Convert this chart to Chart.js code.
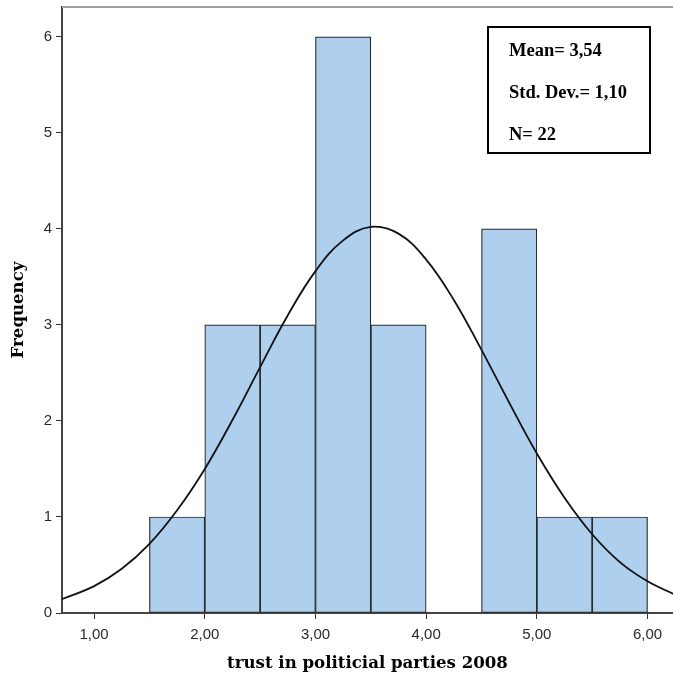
<!DOCTYPE html>
<html>
<head>
<meta charset="utf-8">
<script src="https://cdn.jsdelivr.net/npm/chart.js@4"></script>
<style>
  body { margin: 0; background: #fff; }
  #wrap { width: 673px; height: 682px; }
</style>
</head>
<body>
<div id="wrap"><canvas id="histChart"></canvas></div>
<script>
// bin centres (width 0.5) and frequencies
const binCenters = [1.75, 2.25, 2.75, 3.25, 3.75, 4.25, 4.75, 5.25, 5.75];
const frequencies = [1, 3, 3, 6, 3, 0, 4, 1, 1];

// normal curve
const curveX = [0.7, 1.0, 1.25, 1.5, 1.75, 2.0, 2.25, 2.5, 2.75, 3.0, 3.25, 3.5,
                3.75, 4.0, 4.25, 4.5, 4.75, 5.0, 5.25, 5.5, 5.75, 6.0, 6.25];
const curveY = [0.14, 0.28, 0.46, 0.72, 1.07, 1.50, 2.01, 2.56, 3.10, 3.56, 3.88, 4.02,
                3.95, 3.68, 3.26, 2.74, 2.19, 1.66, 1.20, 0.82, 0.53, 0.33, 0.19];

const xTicks = [1, 2, 3, 4, 5, 6];
const yTicks = [0, 1, 2, 3, 4, 5, 6];
const statLines = ['Mean= 3,54', 'Std. Dev.= 1,10', 'N= 22'];

const barData = binCenters
    .map((x, i) => ({ x: x, y: frequencies[i] }))
    .filter(p => p.y > 0);
const curveData = curveX.map((x, i) => ({ x: x, y: curveY[i] }));

/**
 * Draws the grey top frame line and the statistics box.
 */
const extrasPlugin = {
    id: 'extras',
    afterDraw(chart) {
        const c = chart.ctx;
        const area = chart.chartArea;
        c.save();
        c.strokeStyle = '#a0a0a0';
        c.lineWidth = 2;
        c.beginPath();
        c.moveTo(area.left, area.top);
        c.lineTo(chart.width, area.top);
        c.stroke();

        c.strokeStyle = '#000';
        c.lineWidth = 2;
        c.strokeRect(488, 27, 162, 126);
        c.fillStyle = '#000';
        c.font = 'bold 18.5px "Liberation Serif", "Times New Roman", serif';
        c.textBaseline = 'alphabetic';
        statLines.forEach((t, i) => {
            c.fillText(t, 509, 56 + i * 42);
        });
        c.restore();
    }
};

let ctx = document.getElementById('histChart').getContext('2d');

let histChart = new Chart(ctx, {
    type: 'bar',
    data: {
        datasets: [{
            type: 'line',
            data: curveData,
            borderColor: '#111',
            borderWidth: 1.8,
            pointRadius: 0,
            tension: 0.4,
            fill: false,
            order: 0
        }, {
            type: 'bar',
            data: barData,
            backgroundColor: '#aecfee',
            borderColor: '#2a2a2a',
            borderWidth: 1.2,
            borderSkipped: false,
            barPercentage: 1,
            categoryPercentage: 1,
            order: 1
        }]
    },
    options: {
        responsive: true,
        maintainAspectRatio: false,
        animation: false,
        layout: { padding: { top: 7, right: 0, left: 0, bottom: 0 } },
        plugins: {
            legend: { display: false },
            tooltip: { enabled: false }
        },
        scales: {
            x: {
                type: 'linear',
                min: 0.71,
                max: 6.23,
                offset: false,
                afterFit(scale) { scale.height = 69; },
                afterBuildTicks(scale) { scale.ticks = xTicks.map(v => ({ value: v })); },
                grid: { display: true, drawOnChartArea: false, drawTicks: true, tickLength: 6, color: '#333', offset: false },
                border: { display: true, color: '#444', width: 2 },
                ticks: {
                    color: '#2a2a2a',
                    padding: 7,
                    maxRotation: 0,
                    font: { family: '"Liberation Sans", Arial, sans-serif', size: 15 },
                    callback: v => v.toFixed(2).replace('.', ',')
                },
                title: {
                    display: true,
                    text: 'trust in politicial parties 2008',
                    color: '#000',
                    padding: { top: 0, bottom: 8 },
                    font: { family: '"DejaVu Serif", serif', size: 16.6, weight: 'bold' }
                }
            },
            y: {
                min: 0,
                max: 6.31,
                afterFit(scale) {
                    scale.width = 62;
                    scale.paddingTop = 0;
                    scale.paddingBottom = 0;
                },
                afterBuildTicks(scale) { scale.ticks = yTicks.map(v => ({ value: v })); },
                grid: { display: true, drawOnChartArea: false, drawTicks: true, tickLength: 6, color: '#333' },
                border: { display: true, color: '#444', width: 2 },
                ticks: {
                    color: '#2a2a2a',
                    padding: 4,
                    font: { family: '"Liberation Sans", Arial, sans-serif', size: 15 }
                },
                title: {
                    display: true,
                    text: 'Frequency',
                    color: '#000',
                    padding: { top: 9, bottom: 0 },
                    font: { family: '"DejaVu Serif", serif', size: 16.6, weight: 'bold' }
                }
            }
        }
    },
    plugins: [extrasPlugin]
});
</script>
</body>
</html>
